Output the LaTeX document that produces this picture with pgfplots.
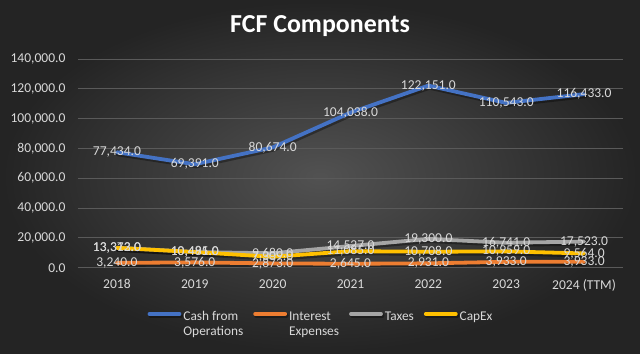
\documentclass[border=0pt]{standalone}
\usepackage{pgfplots}
\pgfplotsset{compat=1.18}
\usepackage{fontspec}
\setmainfont{Carlito}
\definecolor{cfo}{HTML}{4472C4}
\definecolor{intr}{HTML}{ED7D31}
\definecolor{tax}{HTML}{A5A5A5}
\definecolor{capex}{HTML}{FFC000}
\definecolor{txt}{HTML}{D9D9D9}
\definecolor{grd}{HTML}{5A5A5A}
\begin{document}
\begin{tikzpicture}[x=1bp,y=1bp]
\useasboundingbox (-78,-85.3) rectangle (562,267.7);
\shade[inner color=black!68, outer color=black!86] (-78,-85.3) rectangle (562,267.7);
\node[text=white, font=\fontsize{26}{30}\selectfont\bfseries] at (242,242) {FCF Components};
\begin{axis}[
  at={(0,0)}, anchor=south west,
  scale only axis, width=545bp, height=208.7bp,
  xmin=-0.5, xmax=6.5, ymin=0, ymax=140000,
  xtick={0,...,6},
  xticklabels={2018,2019,2020,2021,2022,2023,2024 (TTM)},
  ytick={0,20000,...,140000},
  scaled y ticks=false,
  axis line style={draw=none},
  major tick length=0pt,
  ymajorgrids, grid style={grd, line width=0.8bp},
  tick label style={text=txt, font=\fontsize{13.6}{15}\selectfont},
  xticklabel style={yshift=-8bp},
  yticklabel style={xshift=-9bp},
  /pgf/number format/assume math mode=true,
  /pgf/number format/fixed,
  /pgf/number format/fixed zerofill,
  /pgf/number format/precision=1,
  /pgf/number format/1000 sep={,},
  every axis plot/.append style={line width=3.8bp, line join=round, line cap=round,
     preaction={draw=black, draw opacity=0.35, line width=4.5bp, transform canvas={xshift=1.2bp, yshift=-1.8bp}}},
  nodes near coords,
  nodes near coords style={anchor=center, text=txt, font=\fontsize{13.6}{15}\selectfont},
  legend columns=4,
  legend style={at={(0.446,-0.19)}, anchor=north, draw=none, fill=none,
    text=txt, font=\fontsize{13.4}{15}\selectfont,
    /tikz/every even column/.append style={column sep=8bp}},
  legend image code/.code={\draw[#1, line width=3.8bp, line cap=round, preaction={draw=none}] (1bp,0.3em) -- (31bp,0.3em);},
  clip=false,
]
\addplot[cfo, mark=none] coordinates {(0,77434) (1,69391) (2,80674) (3,104038) (4,122151) (5,110543) (6,116433)};
\addlegendentry{\vtop{\hbox{Cash from}\hbox{Operations}}}
\addplot[intr, mark=none] coordinates {(0,3240) (1,3576) (2,2873) (3,2645) (4,2931) (5,3933) (6,3933)};
\addlegendentry{\vtop{\hbox{Interest}\hbox{Expenses}}}
\addplot[tax, mark=none] coordinates {(0,13372) (1,10481) (2,9680) (3,14527) (4,19300) (5,16741) (6,17523)};
\addlegendentry{Taxes}
\addplot[capex, mark=none] coordinates {(0,13313) (1,10495) (2,7309) (3,11085) (4,10708) (5,10959) (6,9564)};
\addlegendentry{CapEx}
\end{axis}
\end{tikzpicture}
\end{document}
